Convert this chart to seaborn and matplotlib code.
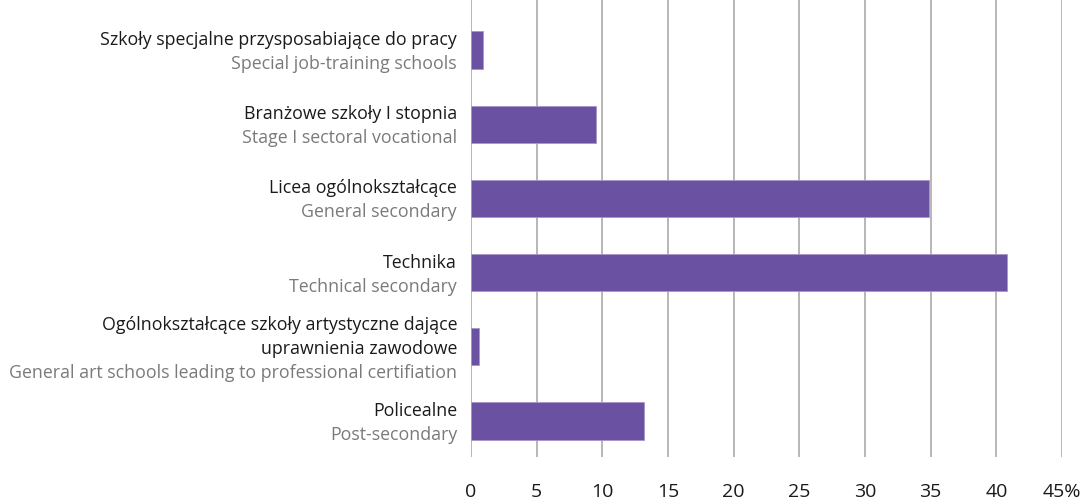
import matplotlib
matplotlib.use("Agg")
import matplotlib.pyplot as plt
import matplotlib.transforms as mtransforms
import seaborn as sns
import pandas as pd

# School types (Polish name, English name) and their share in %
names_pl = [
    "Szkoły specjalne przysposabiające do pracy",
    "Branżowe szkoły I stopnia",
    "Licea ogólnokształcące",
    "Technika",
    "Ogólnokształcące szkoły artystyczne dające\nuprawnienia zawodowe",
    "Policealne",
]
names_en = [
    "Special job-training schools",
    "Stage I sectoral vocational",
    "General secondary",
    "Technical secondary",
    "General art schools leading to professional certifiation",
    "Post-secondary",
]
shares = [0.9, 9.5, 34.9, 40.8, 0.6, 13.2]
x_ticks = [0, 5, 10, 15, 20, 25, 30, 35, 40, 45]
x_tick_labels = ["0", "5", "10", "15", "20", "25", "30", "35", "40", "45%"]

BAR = "#6a51a1"
GRID = "#a3a3a3"
DARK = "#1a1a1a"
GREY = "#7a7a7a"

sns.set_theme(style="white")
plt.rcParams["font.family"] = ["Open Sans", "DejaVu Sans"]

df = pd.DataFrame({"school": names_en, "share": shares})

fig = plt.figure(figsize=(10.9, 5.02), dpi=100)
ax = fig.add_axes([471 / 1090, 1 - 458 / 502, (1062 - 471) / 1090, 458 / 502])

sns.barplot(data=df, x="share", y="school", orient="h", color=BAR,
            width=0.5, saturation=1, ax=ax, zorder=3,
            edgecolor="#a796c8", linewidth=0.6)

ax.set_xlim(0, 45)
ax.set_ylim(len(shares) - 0.515, -0.687)
ax.set_xticks(x_ticks)
ax.set_xticklabels(x_tick_labels)
ax.set_yticks([])
ax.set_xlabel("")
ax.set_ylabel("")
for sp in ax.spines.values():
    sp.set_visible(False)
for xv in x_ticks:
    ax.axvline(xv, color=GRID, lw=1.1, zorder=1)
ax.tick_params(axis="x", length=0, pad=18, labelsize=14, labelcolor=DARK)

# Two-colour category labels left of the bars
base = mtransforms.blended_transform_factory(ax.transAxes, ax.transData)
line_px = 24
for i, (pl, en) in enumerate(zip(names_pl, names_en)):
    lines = pl.split("\n") + [en]
    n = len(lines)
    for j, txt in enumerate(lines):
        dy = 6 + (j - (n - 1) / 2) * line_px
        tr = mtransforms.offset_copy(base, fig=fig, x=-14, y=-dy, units="dots")
        ax.text(0, i, txt, transform=tr, ha="right", va="baseline",
                fontsize=12.8, color=GREY if j == n - 1 else DARK)

fig.savefig("out.png", dpi=100)
